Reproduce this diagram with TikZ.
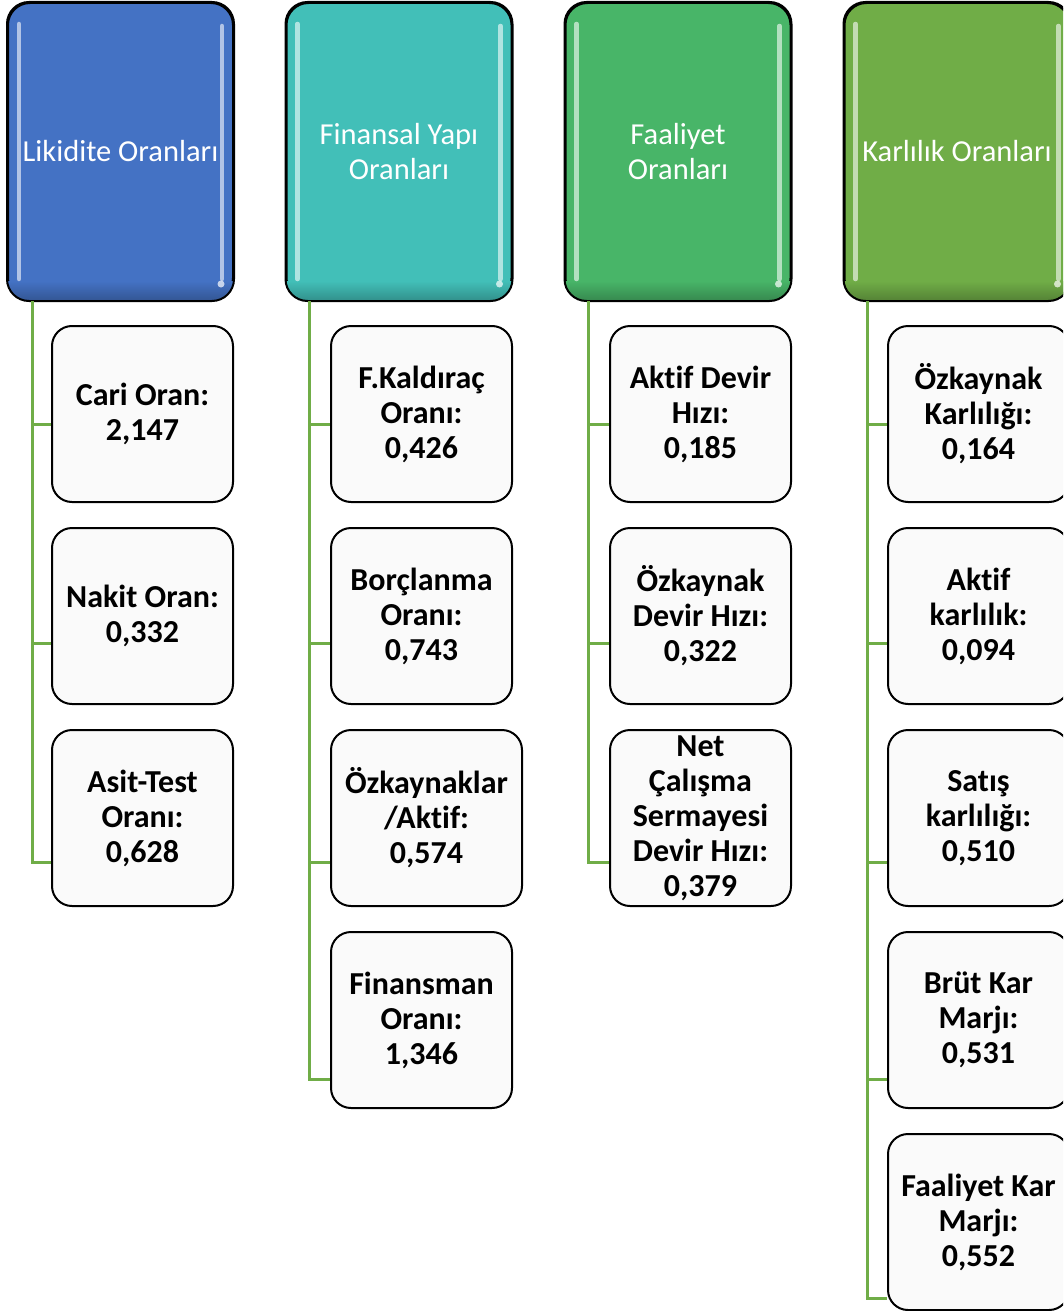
\documentclass[tikz,border=0pt]{standalone}
\usepackage{fontspec}
\setmainfont{Carlito}[Ligatures=NoCommon]
\definecolor{cblue}{HTML}{4472C4}
\definecolor{cteal}{HTML}{42BFB8}
\definecolor{cgreen}{HTML}{48B568}
\definecolor{clime}{HTML}{70AD47}
\definecolor{linecol}{HTML}{70AD47}
\begin{document}
\begin{tikzpicture}[x=1pt,y=-1pt,
  hdr/.style={draw=black, line width=2pt, rounded corners=22pt, minimum width=225pt, minimum height=297pt,
    text=white, font=\fontsize{30.5}{35}\selectfont, align=center, inner sep=0pt},
  kid/.style={draw=black, line width=2pt, rounded corners=20pt, fill=black!2, minimum width=181pt, minimum height=176pt,
    font=\bfseries\fontsize{32}{35}\selectfont, align=center, inner sep=0pt},
  gloss/.style={line width=4.5pt, line cap=round, white, opacity=0.6},
  conn/.style={draw=linecol, line width=3pt}]
\useasboundingbox (0,0) rectangle (1063,1311);
\clip (0,0) rectangle (1063,1311);

% headers
\node[hdr, fill=cblue] (h1) at (120.5,151.5) {Likidite Oranları};
\node[hdr, fill=cteal] (h2) at (399,151.5) {Finansal Yapı\\Oranları};
\node[hdr, fill=cgreen] (h3) at (678,151.5) {Faaliyet\\Oranları};
\node[hdr, fill=clime] (h4) at (957,151.5) {Karlılık Oranları};

% gloss highlights and bottom shade
\foreach \h/\c in {h1/cblue,h2/cteal,h3/cgreen,h4/clime}{
  \begin{scope}
    \clip[rounded corners=22pt] (\h.north west) rectangle (\h.south east);
    \shade[top color=\c, bottom color=\c!75!black] ([yshift=20pt]\h.south west) rectangle (\h.south east);
  \end{scope}
  \draw[gloss, draw=\c!35!white, opacity=0.9] ([xshift=12pt,yshift=-22pt]\h.north west) -- ([xshift=12pt,yshift=22pt]\h.south west);
  \draw[gloss, draw=\c!35!white, opacity=0.9] ([xshift=-12pt,yshift=-24pt]\h.north east) -- ([xshift=-12pt,yshift=22pt]\h.south east);
  \fill[white, opacity=0.7] ([xshift=-13pt,yshift=17pt]\h.south east) circle (3.5pt);
  \draw[black, line width=2pt, rounded corners=22pt] (\h.north west) rectangle (\h.south east);
}

% junction coordinates
\coordinate (j11) at (32,424);  \coordinate (j12) at (32,643);  \coordinate (j13) at (32,862);
\coordinate (j21) at (309,424); \coordinate (j22) at (309,643); \coordinate (j23) at (309,862); \coordinate (j24) at (309,1079);
\coordinate (j31) at (588,424); \coordinate (j32) at (588,643); \coordinate (j33) at (588,862);
\coordinate (j41) at (867,424); \coordinate (j42) at (867,643); \coordinate (j43) at (867,862); \coordinate (j44) at (867,1079); \coordinate (j45) at (867,1298);

% children
\node[kid] (c11) at (142.5,414) {Cari Oran:\\2,147};
\node[kid] (c12) at (142.5,616) {Nakit Oran:\\0,332};
\node[kid] (c13) at (142.5,818) {Asit-Test\\Oranı:\\0,628};

\node[kid] (c21) at (421.5,414) {F.Kaldıraç\\Oranı:\\0,426};
\node[kid] (c22) at (421.5,616) {Borçlanma\\Oranı:\\0,743};
\node[kid, minimum width=191pt] (c23) at (426.5,818) {Özkaynaklar\\/Aktif:\\0,574};
\node[kid] (c24) at (421.5,1020) {Finansman\\Oranı:\\1,346};

\node[kid] (c31) at (700.5,414) {Aktif Devir\\Hızı:\\0,185};
\node[kid] (c32) at (700.5,616) {Özkaynak\\Devir Hızı:\\0,322};
\node[kid] (c33) at (700.5,818) {Net\\Çalışma\\Sermayesi\\Devir Hızı:\\0,379};

\node[kid] (c41) at (978.5,414) {Özkaynak\\Karlılığı:\\0,164};
\node[kid] (c42) at (978.5,616) {Aktif\\karlılık:\\0,094};
\node[kid] (c43) at (978.5,818) {Satış\\karlılığı:\\0,510};
\node[kid] (c44) at (978.5,1020) {Brüt Kar\\Marjı:\\0,531};
\node[kid] (c45) at (978.5,1222) {Faaliyet Kar\\Marjı:\\0,552};

% connectors
\draw[conn] (h1.south -| j11) -- (j13) -- (c13.west |- j13);
\draw[conn] (j11) -- (c11.west |- j11);
\draw[conn] (j12) -- (c12.west |- j12);

\draw[conn] (h2.south -| j21) -- (j24) -- (c24.west |- j24);
\draw[conn] (j21) -- (c21.west |- j21);
\draw[conn] (j22) -- (c22.west |- j22);
\draw[conn] (j23) -- (c23.west |- j23);

\draw[conn] (h3.south -| j31) -- (j33) -- (c33.west |- j33);
\draw[conn] (j31) -- (c31.west |- j31);
\draw[conn] (j32) -- (c32.west |- j32);

\draw[conn] (h4.south -| j41) -- (j45) -- (c45.west |- j45);
\draw[conn] (j41) -- (c41.west |- j41);
\draw[conn] (j42) -- (c42.west |- j42);
\draw[conn] (j43) -- (c43.west |- j43);
\draw[conn] (j44) -- (c44.west |- j44);
\end{tikzpicture}
\end{document}
